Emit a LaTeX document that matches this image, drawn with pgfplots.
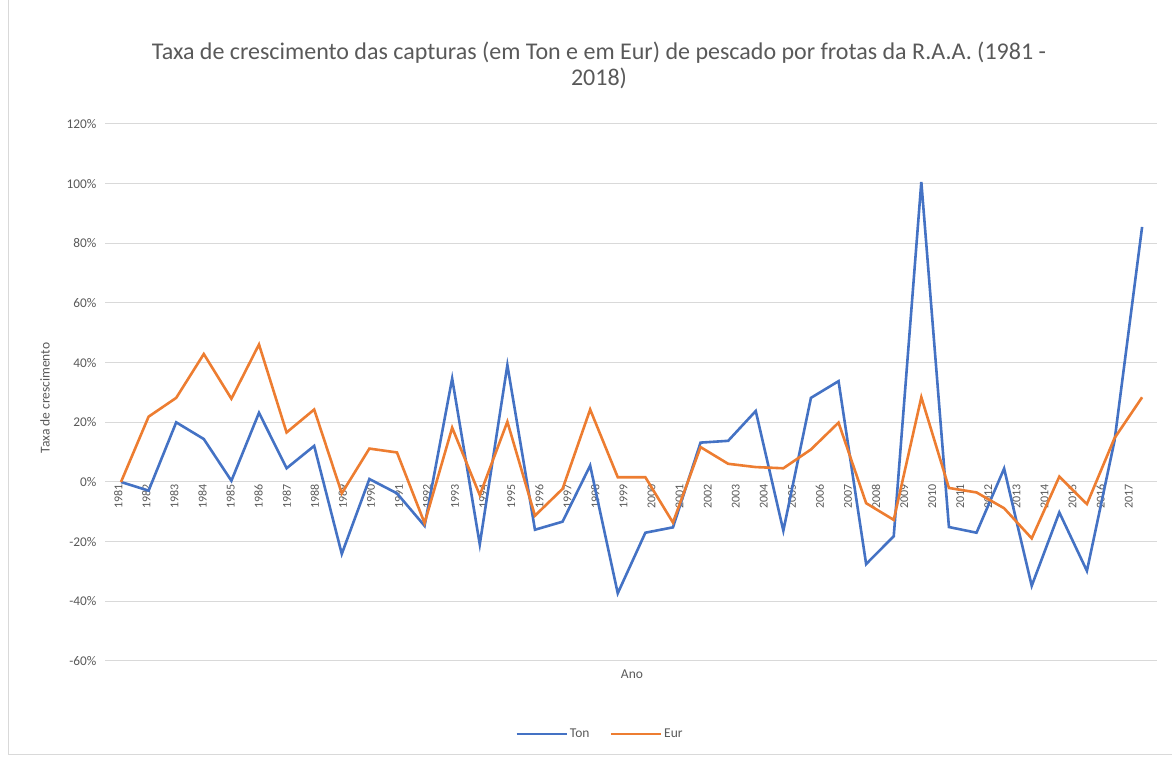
\documentclass[border=0pt]{standalone}
\usepackage{pgfplots}
\pgfplotsset{compat=1.18}
\usepackage{fontspec}
\setmainfont{Carlito}
\definecolor{tonblue}{HTML}{4472C4}
\definecolor{eurorange}{HTML}{ED7D31}
\definecolor{txtgray}{HTML}{595959}
\definecolor{gridgray}{HTML}{D9D9D9}
\begin{document}
\begin{tikzpicture}[x=1pt,y=1pt]
\path[use as bounding box] (0,0) rectangle (1172,757);
\draw[gridgray,line width=1pt] (8,757) -- (8,2) -- (1172,2);
\begin{axis}[
  at={(105pt,96pt)}, anchor=south west,
  scale only axis, width=1052pt, height=537pt,
  xmin=-0.58, xmax=37.54, ymin=-60, ymax=120,
  axis x line=middle, axis y line=left,
  axis line style={draw=none},
  hide obscured x ticks=false, hide obscured y ticks=false,
  major tick length=0pt,
  ytick={-60,-40,-20,0,20,40,60,80,100,120},
  yticklabels={-60\%,-40\%,-20\%,0\%,20\%,40\%,60\%,80\%,100\%,120\%},
  yticklabel style={font=\fontsize{13.3}{15}\selectfont, text=txtgray, xshift=-5pt},
  ymajorgrids, grid style={gridgray, line width=1pt},
  xtick={-0.098,0.919,1.936,2.953,3.970,4.987,6.004,7.021,8.038,9.055,10.072,11.089,12.106,13.123,14.140,15.157,16.174,17.191,18.208,19.225,20.242,21.259,22.276,23.293,24.310,25.327,26.344,27.361,28.378,29.395,30.412,31.429,32.446,33.463,34.480,35.497,36.514},
  xticklabels={1981,1982,1983,1984,1985,1986,1987,1988,1989,1990,1991,1992,1993,1994,1995,1996,1997,1998,1999,2000,2001,2002,2003,2004,2005,2006,2007,2008,2009,2010,2011,2012,2013,2014,2015,2016,2017},
  xticklabel style={rotate=90, anchor=east, font=\fontsize{12}{13}\selectfont, text=txtgray, inner sep=2pt},
  clip=false,
  legend columns=2,
  legend style={at={(0.4705,-0.136)}, anchor=center, draw=none, fill=none,
    font=\fontsize{13.5}{15}\selectfont, text=txtgray,
    /tikz/every even column/.append style={column sep=18pt}},
  legend image code/.code={\draw[#1] (0pt,0pt) -- (50pt,0pt);},
]
\addplot[tonblue, line width=2.6pt] coordinates {
(0,0) (1,-2.9) (2,20.0) (3,14.4) (4,0.4) (5,23.2) (6,4.6) (7,12.1) (8,-24.1) (9,1.0)
(10,-3.8) (11,-14.7) (12,34.7) (13,-20.9) (14,39.2) (15,-16.0) (16,-13.3) (17,5.5) (18,-37.3) (19,-17.0)
(20,-15.2) (21,13.2) (22,13.8) (23,23.8) (24,-16.3) (25,28.2) (26,33.8) (27,-27.5) (28,-18.2) (29,100.6)
(30,-15.1) (31,-17.0) (32,4.5) (33,-34.8) (34,-10.2) (35,-29.8) (36,13.8) (37,85.5)
};
\addlegendentry{Ton}
\addplot[eurorange, line width=2.6pt] coordinates {
(0,0) (1,21.9) (2,28.2) (3,42.9) (4,27.9) (5,46.1) (6,16.6) (7,24.3) (8,-3.8) (9,11.2)
(10,9.9) (11,-13.8) (12,18.2) (13,-4.4) (14,20.2) (15,-11.3) (16,-2.3) (17,24.3) (18,1.6) (19,1.6)
(20,-13.6) (21,11.7) (22,6.1) (23,5.0) (24,4.6) (25,10.9) (26,19.9) (27,-7.1) (28,-12.7) (29,28.4)
(30,-2.0) (31,-3.5) (32,-8.8) (33,-18.9) (34,1.8) (35,-7.4) (36,14.7) (37,28.4)
};
\addlegendentry{Eur}
\end{axis}
\node[text=txtgray, font=\fontsize{24}{26}\selectfont, align=center] at (599,692) {Taxa de crescimento das capturas (em Ton e em Eur) de pescado por frotas da R.A.A. (1981 -\\2018)};
\node[text=txtgray, font=\fontsize{13.5}{15}\selectfont] at (632,83) {Ano};
\node[text=txtgray, font=\fontsize{13.5}{15}\selectfont, rotate=90] at (45,359) {Taxa de crescimento};
\end{tikzpicture}
\end{document}
